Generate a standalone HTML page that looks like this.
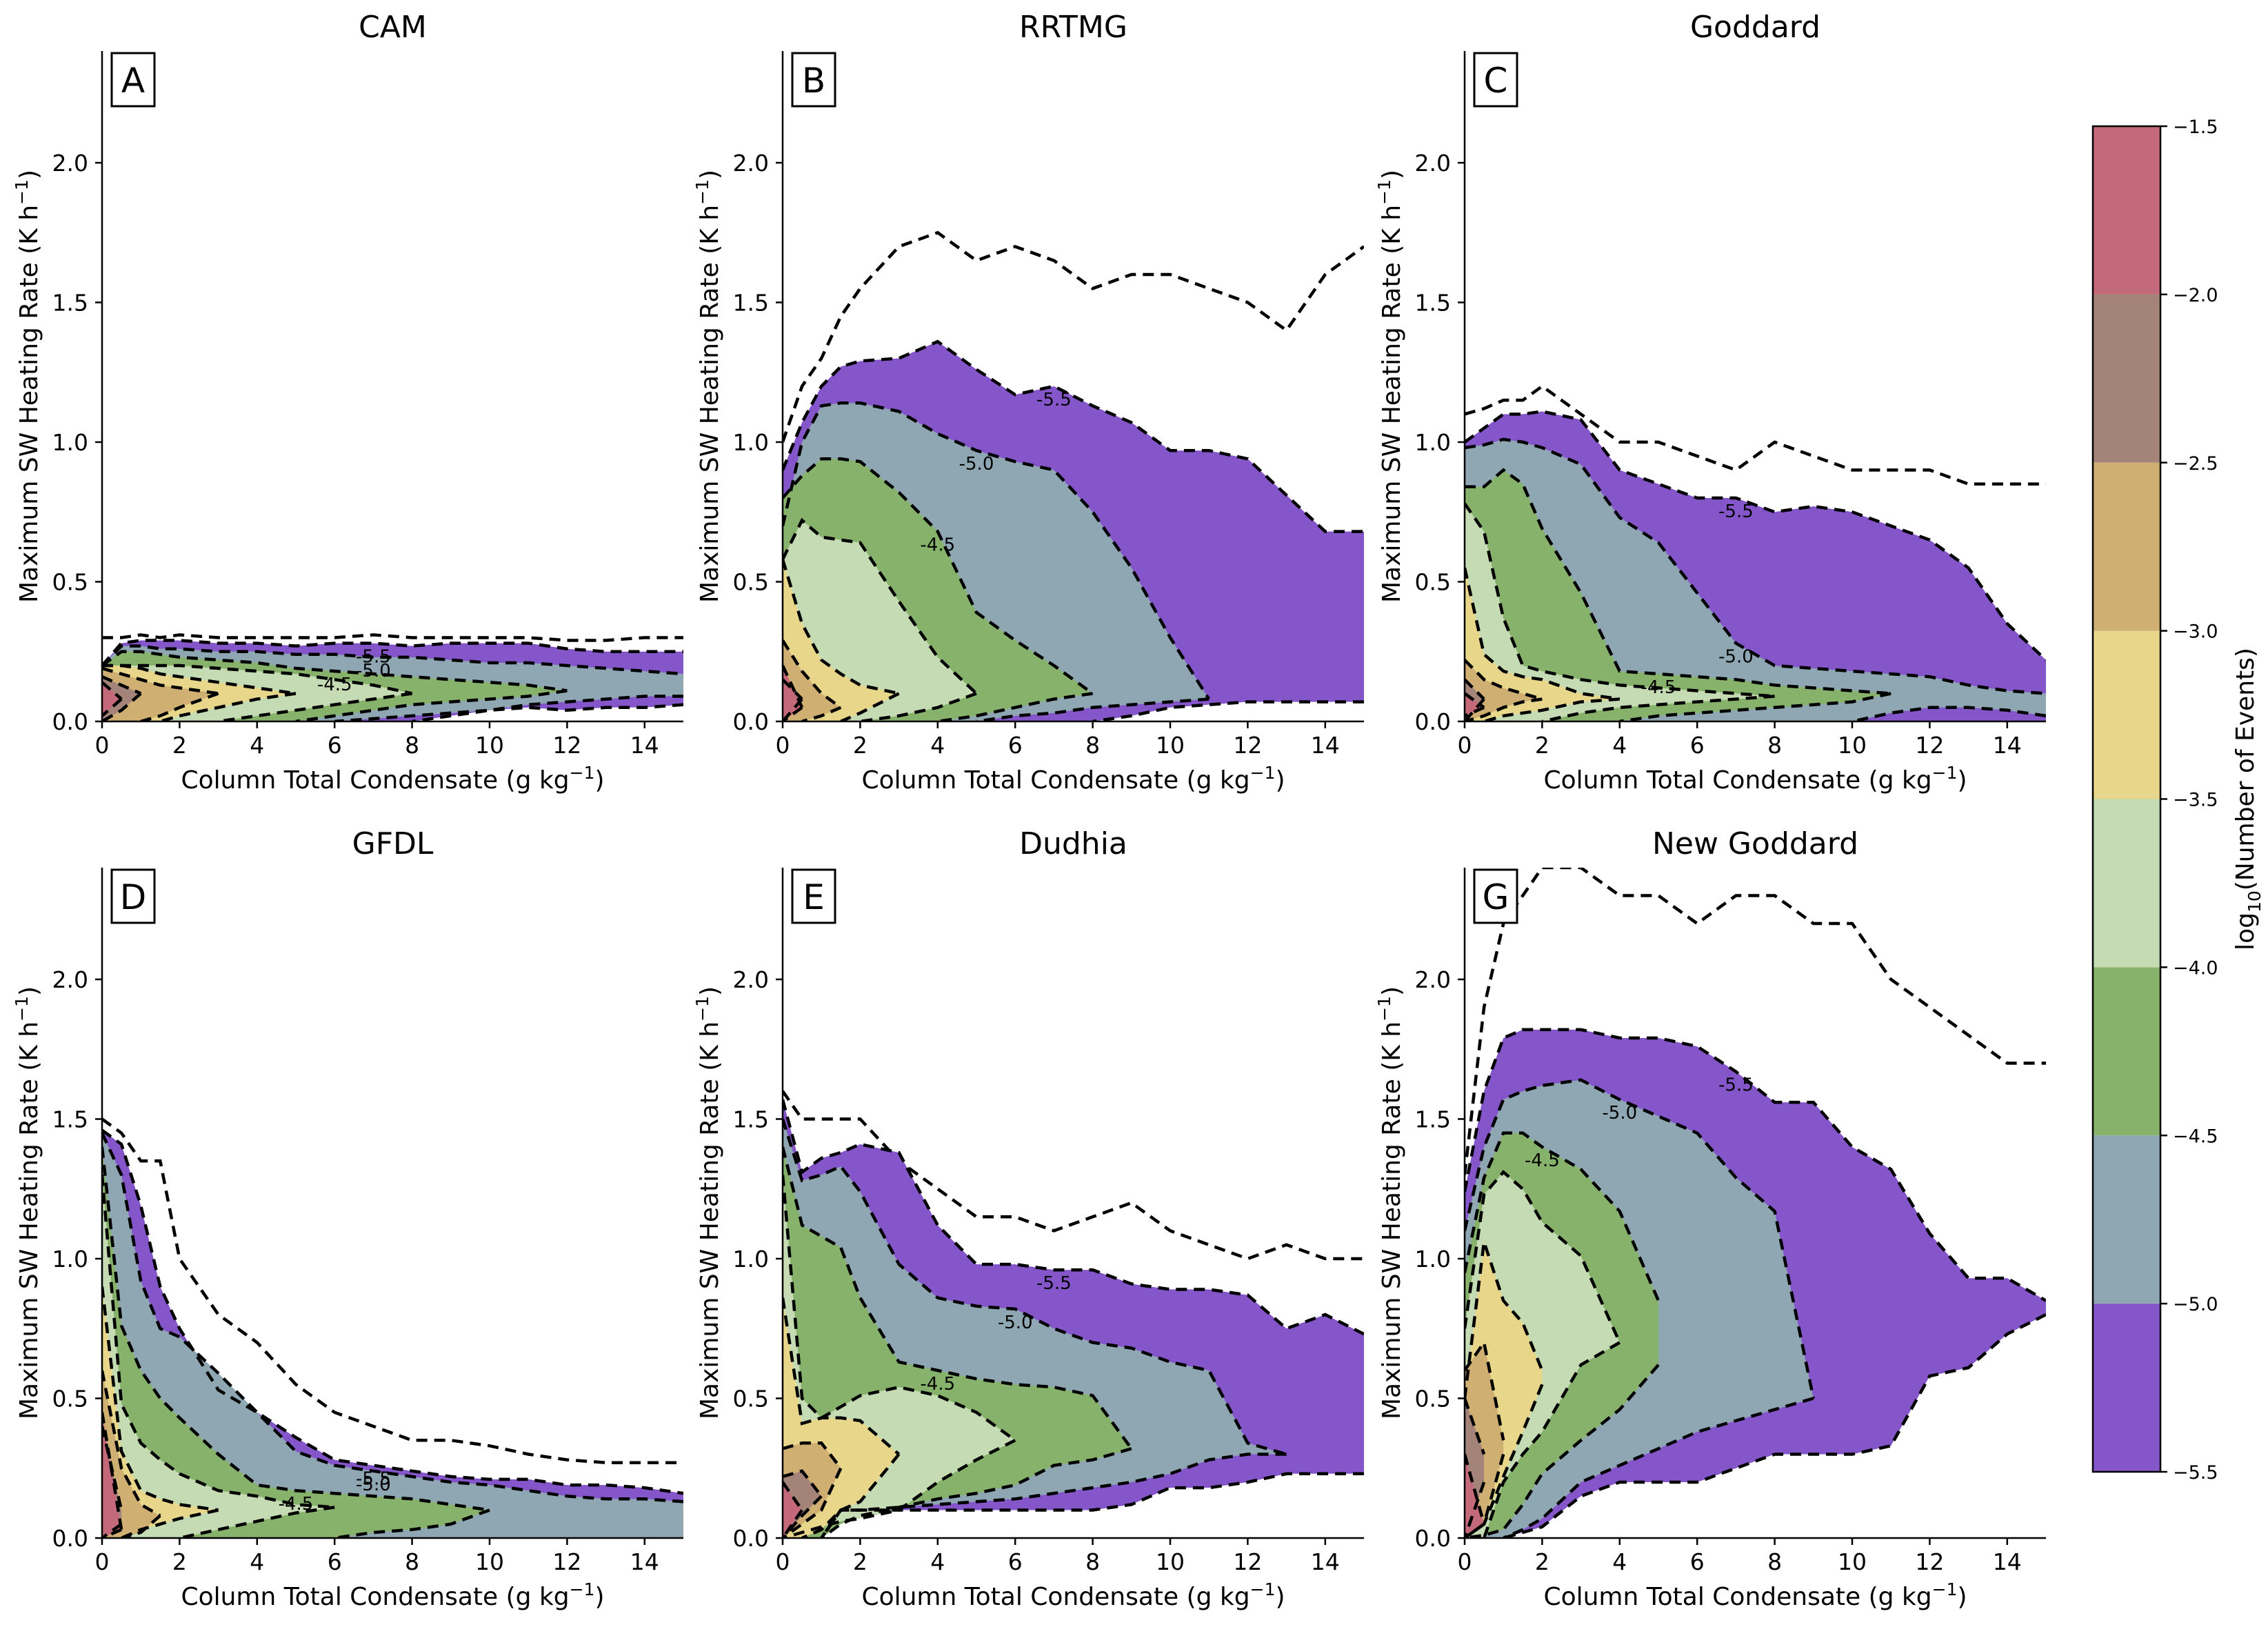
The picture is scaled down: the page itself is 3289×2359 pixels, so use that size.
<!DOCTYPE html>
<html><head><meta charset="utf-8"><style>
html,body{margin:0;padding:0;background:#fff}
svg{display:block}
text{font-family:"DejaVu Sans","Liberation Sans",sans-serif;fill:#000}
</style></head><body>
<svg id="fig" width="3289" height="2359" viewBox="0 0 3289 2359" xmlns="http://www.w3.org/2000/svg"></svg>
<script>
// shared x grid (g kg-1)
const xGrid = [0,0.5,1,1.5,2,3,4,5,6,7,8,9,10,11,12,13,14,15];
const levelNames = ['-5.5','-5.0','-4.5','-4.0','-3.5','-3.0','-2.5','-2.0'];
const levelColors = ['#8556c9','#8ea7b2','#87b26b','#c5dbb3','#e8d78a','#cfaf72','#a48479','#c4697a'];
const panelTitles = ['CAM','RRTMG','Goddard','GFDL','Dudhia','New Goddard'];
const panelLetters = ['A','B','C','D','E','G'];
const xTicks = [0,2,4,6,8,10,12,14];
const yTicks = [0,0.5,1.0,1.5,2.0];
const cbTicks = [-1.5,-2.0,-2.5,-3.0,-3.5,-4.0,-4.5,-5.0,-5.5];

// Panel A (CAM)
const aUpper = [
 [0.2,0.28,0.29,0.29,0.29,0.28,0.28,0.27,0.28,0.28,0.27,0.28,0.28,0.28,0.26,0.25,0.25,0.25],
 [0.2,0.27,0.27,0.26,0.26,0.25,0.25,0.24,0.24,0.23,0.23,0.22,0.21,0.21,0.2,0.19,0.18,0.17],
 [0.2,0.25,0.25,0.24,0.23,0.22,0.21,0.19,0.18,0.17,0.16,0.15,0.14,0.13,0.11],
 [0.2,0.2,0.2,0.2,0.2,0.19,0.18,0.17,0.15,0.13,0.1],
 [0.2,0.2,0.19,0.17,0.16,0.14,0.12,0.1],
 [0.19,0.17,0.15,0.13,0.12,0.1],
 [0.16,0.13,0.1],
 [0.14,0.08]];
const aLower = [
 [0,0,0,0,0,0,0,0,0,0,0,0.02,0.04,0.05,0.04,0.05,0.05,0.06],
 [0,0,0,0,0,0,0,0,0,0.01,0.02,0.03,0.04,0.06,0.07,0.08,0.09,0.09],
 [0,0,0,0,0,0,0,0,0.02,0.04,0.06,0.07,0.08,0.09,0.11],
 [0,0,0,0,0,0,0.02,0.04,0.06,0.08,0.1],
 [0,0,0,0,0.02,0.05,0.08,0.1],
 [0,0,0,0.02,0.05,0.1],
 [0,0.04,0.1],
 [0.02,0.08]];
const aSix = [0.3,0.3,0.31,0.3,0.31,0.3,0.3,0.3,0.3,0.31,0.3,0.3,0.3,0.3,0.29,0.29,0.3,0.3];

// Panel B (RRTMG)
const bUpper = [
 [0.9,1.07,1.2,1.27,1.29,1.3,1.36,1.26,1.17,1.2,1.13,1.07,0.97,0.97,0.94,0.81,0.68,0.68],
 [0.7,1.0,1.13,1.14,1.14,1.11,1.03,0.97,0.93,0.9,0.75,0.55,0.3,0.08],
 [0.8,0.88,0.94,0.94,0.93,0.82,0.68,0.39,0.29,0.2,0.1],
 [0.58,0.72,0.66,0.65,0.64,0.43,0.23,0.1],
 [0.58,0.35,0.22,0.17,0.13,0.1],
 [0.29,0.18,0.1,0.05],
 [0.15,0.08],
 [0.2,0.05]];
const bLower = [
 [0,0,0,0,0,0,0,0,0,0,0,0.02,0.05,0.06,0.07,0.07,0.07,0.07],
 [0,0,0,0,0,0,0,0,0.02,0.03,0.05,0.06,0.07,0.08],
 [0,0,0,0,0,0,0,0.02,0.05,0.08,0.1],
 [0,0,0,0,0,0.02,0.05,0.1],
 [0,0,0,0,0.03,0.1],
 [0,0,0.02,0.05],
 [0,0.08],
 [0,0.05]];
const bSix = [1.0,1.2,1.3,1.45,1.55,1.7,1.75,1.65,1.7,1.65,1.55,1.6,1.6,1.55,1.5,1.4,1.6,1.7];

// Panel C (Goddard)
const cUpper = [
 [1.0,1.05,1.1,1.1,1.11,1.08,0.9,0.85,0.8,0.8,0.75,0.77,0.75,0.7,0.65,0.55,0.35,0.22],
 [0.98,0.99,1.01,1.0,0.98,0.92,0.73,0.64,0.46,0.28,0.2,0.19,0.18,0.17,0.16,0.13,0.11,0.1],
 [0.84,0.84,0.9,0.85,0.69,0.46,0.18,0.17,0.16,0.15,0.13,0.12,0.11,0.1],
 [0.78,0.68,0.37,0.2,0.18,0.15,0.13,0.12,0.11,0.1,0.09],
 [0.55,0.24,0.18,0.16,0.15,0.1,0.08],
 [0.22,0.15,0.12,0.1,0.08],
 [0.15,0.08],
 [0.1,0.05]];
const cLower = [
 [0,0,0,0,0,0,0,0,0,0,0,0,0,0,0,0,0,0],
 [0,0,0,0,0,0,0,0,0,0,0,0,0,0.03,0.05,0.05,0.04,0.02],
 [0,0,0,0,0,0,0,0.02,0.03,0.04,0.05,0.06,0.07,0.1],
 [0,0,0,0,0,0.03,0.05,0.06,0.07,0.08,0.09],
 [0,0,0.02,0.03,0.04,0.07,0.08],
 [0,0.02,0.05,0.07,0.08],
 [0,0.08],
 [0.02,0.05]];
const cSix = [1.1,1.12,1.15,1.15,1.2,1.1,1.0,1.0,0.95,0.9,1.0,0.95,0.9,0.9,0.9,0.85,0.85,0.85];

// Panel D (GFDL)
const dUpper = [
 [1.46,1.41,1.19,0.9,0.75,0.53,0.45,0.36,0.28,0.26,0.24,0.22,0.21,0.21,0.19,0.19,0.18,0.16],
 [1.45,1.3,0.92,0.75,0.72,0.59,0.45,0.31,0.26,0.24,0.22,0.2,0.19,0.17,0.15,0.14,0.14,0.13],
 [1.4,0.76,0.6,0.5,0.43,0.3,0.19,0.17,0.16,0.15,0.14,0.12,0.1],
 [1.3,0.48,0.34,0.28,0.23,0.17,0.15,0.12,0.11],
 [0.9,0.31,0.17,0.14,0.12,0.1],
 [0.6,0.25,0.12,0.08],
 [0.4,0.1],
 [0.45,0.03]];
const dLower = [
 [0,0,0,0,0,0,0,0,0,0,0,0,0,0,0,0,0,0],
 [0,0,0,0,0,0,0,0,0,0,0,0,0,0,0,0,0,0],
 [0,0,0,0,0,0,0,0,0,0.02,0.03,0.05,0.1],
 [0,0,0,0,0,0.03,0.06,0.09,0.11],
 [0,0,0.03,0.05,0.07,0.1],
 [0,0,0.02,0.08],
 [0,0.05],
 [0,0.03]];
const dSix = [1.5,1.45,1.35,1.35,1.0,0.8,0.7,0.55,0.45,0.4,0.35,0.35,0.33,0.3,0.28,0.27,0.27,0.27];

// Panel E (Dudhia)
const eUpper = [
 [1.57,1.31,1.36,1.38,1.41,1.38,1.12,0.98,0.98,0.96,0.96,0.91,0.89,0.89,0.87,0.75,0.8,0.73],
 [1.5,1.28,1.3,1.33,1.24,0.98,0.86,0.83,0.82,0.75,0.7,0.68,0.63,0.6,0.34,0.3],
 [1.4,1.12,1.08,1.04,0.86,0.63,0.6,0.57,0.55,0.54,0.51,0.32],
 [1.3,0.5,0.43,0.47,0.51,0.54,0.51,0.45,0.35],
 [0.86,0.41,0.43,0.43,0.42,0.3],
 [0.32,0.34,0.34,0.25],
 [0.22,0.24,0.15],
 [0.2,0.1]];
const eLower = [
 [0,0,0,0.1,0.1,0.1,0.1,0.1,0.1,0.1,0.1,0.12,0.18,0.18,0.2,0.23,0.23,0.23],
 [0,0,0,0.1,0.1,0.11,0.12,0.13,0.14,0.16,0.18,0.2,0.23,0.28,0.3,0.3],
 [0,0,0,0.05,0.08,0.11,0.14,0.16,0.19,0.26,0.28,0.32],
 [0,0.02,0.04,0.06,0.07,0.1,0.2,0.28,0.35],
 [0,0,0.03,0.1,0.13,0.3],
 [0,0.05,0.1,0.25],
 [0,0.08,0.15],
 [0,0.1]];
const eSix = [1.6,1.5,1.5,1.5,1.5,1.35,1.25,1.15,1.15,1.1,1.15,1.2,1.1,1.05,1.0,1.05,1.0,1.0];

// Panel G (New Goddard)
const gUpper = [
 [1.24,1.6,1.79,1.82,1.82,1.82,1.79,1.79,1.76,1.67,1.56,1.56,1.4,1.32,1.09,0.93,0.93,0.85],
 [1.1,1.4,1.57,1.6,1.62,1.64,1.57,1.51,1.45,1.29,1.17,0.5],
 [0.95,1.29,1.45,1.45,1.4,1.32,1.17,0.85],
 [0.75,1.23,1.31,1.25,1.13,1.01,0.7],
 [0.5,1.06,0.85,0.77,0.6],
 [0.6,0.7,0.35],
 [0.5,0.3],
 [0.3,0.05]];
const gLower = [
 [0,0,0,0.02,0.04,0.15,0.2,0.2,0.2,0.25,0.3,0.3,0.3,0.33,0.58,0.61,0.73,0.8],
 [0,0,0,0.03,0.07,0.2,0.26,0.32,0.38,0.42,0.46,0.5],
 [0,0.01,0.03,0.12,0.23,0.35,0.46,0.62],
 [0,0,0.2,0.3,0.38,0.62,0.7],
 [0,0.05,0.22,0.38,0.55],
 [0,0.05,0.3],
 [0,0.2],
 [0,0.05]];
const gSix = [1.3,1.9,2.2,2.3,2.4,2.4,2.3,2.3,2.2,2.3,2.3,2.2,2.2,2.0,1.9,1.8,1.7,1.7];

const uppers = [aUpper,bUpper,cUpper,dUpper,eUpper,gUpper];
const lowers = [aLower,bLower,cLower,dLower,eLower,gLower];
const sixes = [aSix,bSix,cSix,dSix,eSix,gSix];

const NS='http://www.w3.org/2000/svg';
const svg=document.getElementById('fig');
function mk(tag,attrs,parent){const e=document.createElementNS(NS,tag);for(const k in attrs)e.setAttribute(k,attrs[k]);(parent||svg).appendChild(e);return e;}

const lefts=[148,1135,2124], bottoms=[1046,2230];
const W=843, PXY=405, XMAX=15, YMAX=2.4;
const dashA={fill:'none',stroke:'#000','stroke-width':4.5,'stroke-dasharray':'16 10'};

for(let p=0;p<6;p++){
  const L=lefts[p%3], B=bottoms[Math.floor(p/3)];
  const X=v=>L+v*W/XMAX, Y=v=>B-v*PXY;
  const g=mk('g',{});
  
  
  const clipId='clip'+p;
  const cp=mk('clipPath',{id:clipId},g);
  mk('rect',{x:L,y:B-YMAX*PXY,width:W,height:YMAX*PXY},cp);
  const plot=mk('g',{'clip-path':'url(#'+clipId+')'},g);
  const six=sixes[p];
  let d6='';six.forEach((v,i)=>{d6+=(i?'L':'M')+X(xGrid[i]).toFixed(1)+' '+Y(v).toFixed(1);});
  const s6=mk('path',Object.assign({d:d6},dashA),plot);
  
  
  for(let k=0;k<levelColors.length;k++){
    const up=uppers[p][k], lo=lowers[p][k];
    const m=Math.min(up.length,lo.length);
    let d='';
    for(let i=0;i<m;i++){d+=(i?'L':'M')+X(xGrid[i]).toFixed(1)+' '+Y(up[i]).toFixed(1);}
    for(let i=m-1;i>=0;i--){d+='L'+X(xGrid[i]).toFixed(1)+' '+Y(lo[i]).toFixed(1);}
    d+='Z';
    const f=mk('path',{d:d,fill:levelColors[k],stroke:'none'},plot);
    
    
  }
  for(let k=0;k<levelColors.length;k++){
    const up=uppers[p][k], lo=lowers[p][k];
    const m=Math.min(up.length,lo.length);
    let du='';
    for(let i=0;i<m;i++){du+=(i?'L':'M')+X(xGrid[i]).toFixed(1)+' '+Y(up[i]).toFixed(1);}
    // lower edge (only where above zero)
    let dl='';let started=false;
    for(let i=m-1;i>=0;i--){
      if(lo[i]>0){dl+=(started?'L':'M')+X(xGrid[i]).toFixed(1)+' '+Y(lo[i]).toFixed(1);started=true;}
      else if(started){dl+='L'+X(xGrid[i]).toFixed(1)+' '+Y(0).toFixed(1);started=false;}
    }
    const c=mk('path',Object.assign({d:du+dl},dashA),plot);
    
    
  }
  [[0,5.5],[1,5.0],[2,4.5]].forEach(([k,v])=>{
    const up=uppers[p][k]; const i=Math.min(up.length-1,Math.max(4,Math.floor(up.length*0.55)));
    const t=mk('text',{x:X(xGrid[i]),y:Y(up[i])+28,'font-size':26,'text-anchor':'middle'},plot);
    t.textContent='-'+v.toFixed(1);
    
    
  });
  const ax=mk('path',{d:`M${L} ${B-YMAX*PXY}V${B}H${L+W}`,fill:'none',stroke:'#000','stroke-width':2.5},g);
  
  
  xTicks.forEach(v=>{
    mk('line',{x1:X(v),x2:X(v),y1:B,y2:B+10,stroke:'#000','stroke-width':2.5},g);
    const t=mk('text',{x:X(v),y:B+46,'font-size':33,'text-anchor':'middle'},g);
    t.textContent=v;
    
    
  });
  yTicks.forEach(v=>{
    mk('line',{x1:L-10,x2:L,y1:Y(v),y2:Y(v),stroke:'#000','stroke-width':2.5},g);
    const t=mk('text',{x:L-20,y:Y(v)+12,'font-size':33,'text-anchor':'end'},g);
    t.textContent=v.toFixed(1);
    
    
  });
  const xl=mk('text',{x:L+W/2,y:B+97,'font-size':36,'text-anchor':'middle'},g);
  xl.innerHTML='Column Total Condensate (g kg<tspan dy="-14" font-size="25">−1</tspan><tspan dy="14">)</tspan>';
  
  
  const yl=mk('text',{x:0,y:0,'font-size':36,'text-anchor':'middle',transform:`translate(${L-94},${B-1.2*PXY}) rotate(-90)`},g);
  yl.innerHTML='Maximum SW Heating Rate (K h<tspan dy="-14" font-size="25">−1</tspan><tspan dy="14">)</tspan>';
  
  
  const tt=mk('text',{x:L+W/2,y:B-YMAX*PXY-20,'font-size':44,'text-anchor':'middle'},g);
  tt.textContent=panelTitles[p];
  
  
  const bx=mk('rect',{x:L+14,y:B-YMAX*PXY+3,width:62,height:77,fill:'#fff',stroke:'#000','stroke-width':3},g);
  
  
  const lt=mk('text',{x:L+45,y:B-YMAX*PXY+60,'font-size':50,'text-anchor':'middle'},g);
  lt.textContent=panelLetters[p];
  
  
}

const cbL=3035, cbR=3133, cbT=183, cbB=2134;
const cbY=v=>cbT+(-1.5-v)/4*(cbB-cbT);
const cb=mk('g',{});


for(let k=0;k<levelColors.length;k++){
  const lo=-5.5+0.5*k, hi=lo+0.5;
  const r=mk('rect',{x:cbL,y:cbY(hi),width:cbR-cbL,height:cbY(lo)-cbY(hi),fill:levelColors[k]},cb);
  
  
}
mk('rect',{x:cbL,y:cbT,width:cbR-cbL,height:cbB-cbT,fill:'none',stroke:'#000','stroke-width':2.5},cb);
cbTicks.forEach(v=>{
  mk('line',{x1:cbR,x2:cbR+10,y1:cbY(v),y2:cbY(v),stroke:'#000','stroke-width':2.5},cb);
  const t=mk('text',{x:cbR+18,y:cbY(v)+10,'font-size':27},cb);
  t.textContent='−'+Math.abs(v).toFixed(1);
  
  
});
const cl=mk('text',{x:0,y:0,'font-size':36,'text-anchor':'middle',transform:`translate(3268,${(cbT+cbB)/2}) rotate(-90)`},cb);
cl.innerHTML='log<tspan dy="10" font-size="25">10</tspan><tspan dy="-10">(Number of Events)</tspan>';


</script>
</body></html>
